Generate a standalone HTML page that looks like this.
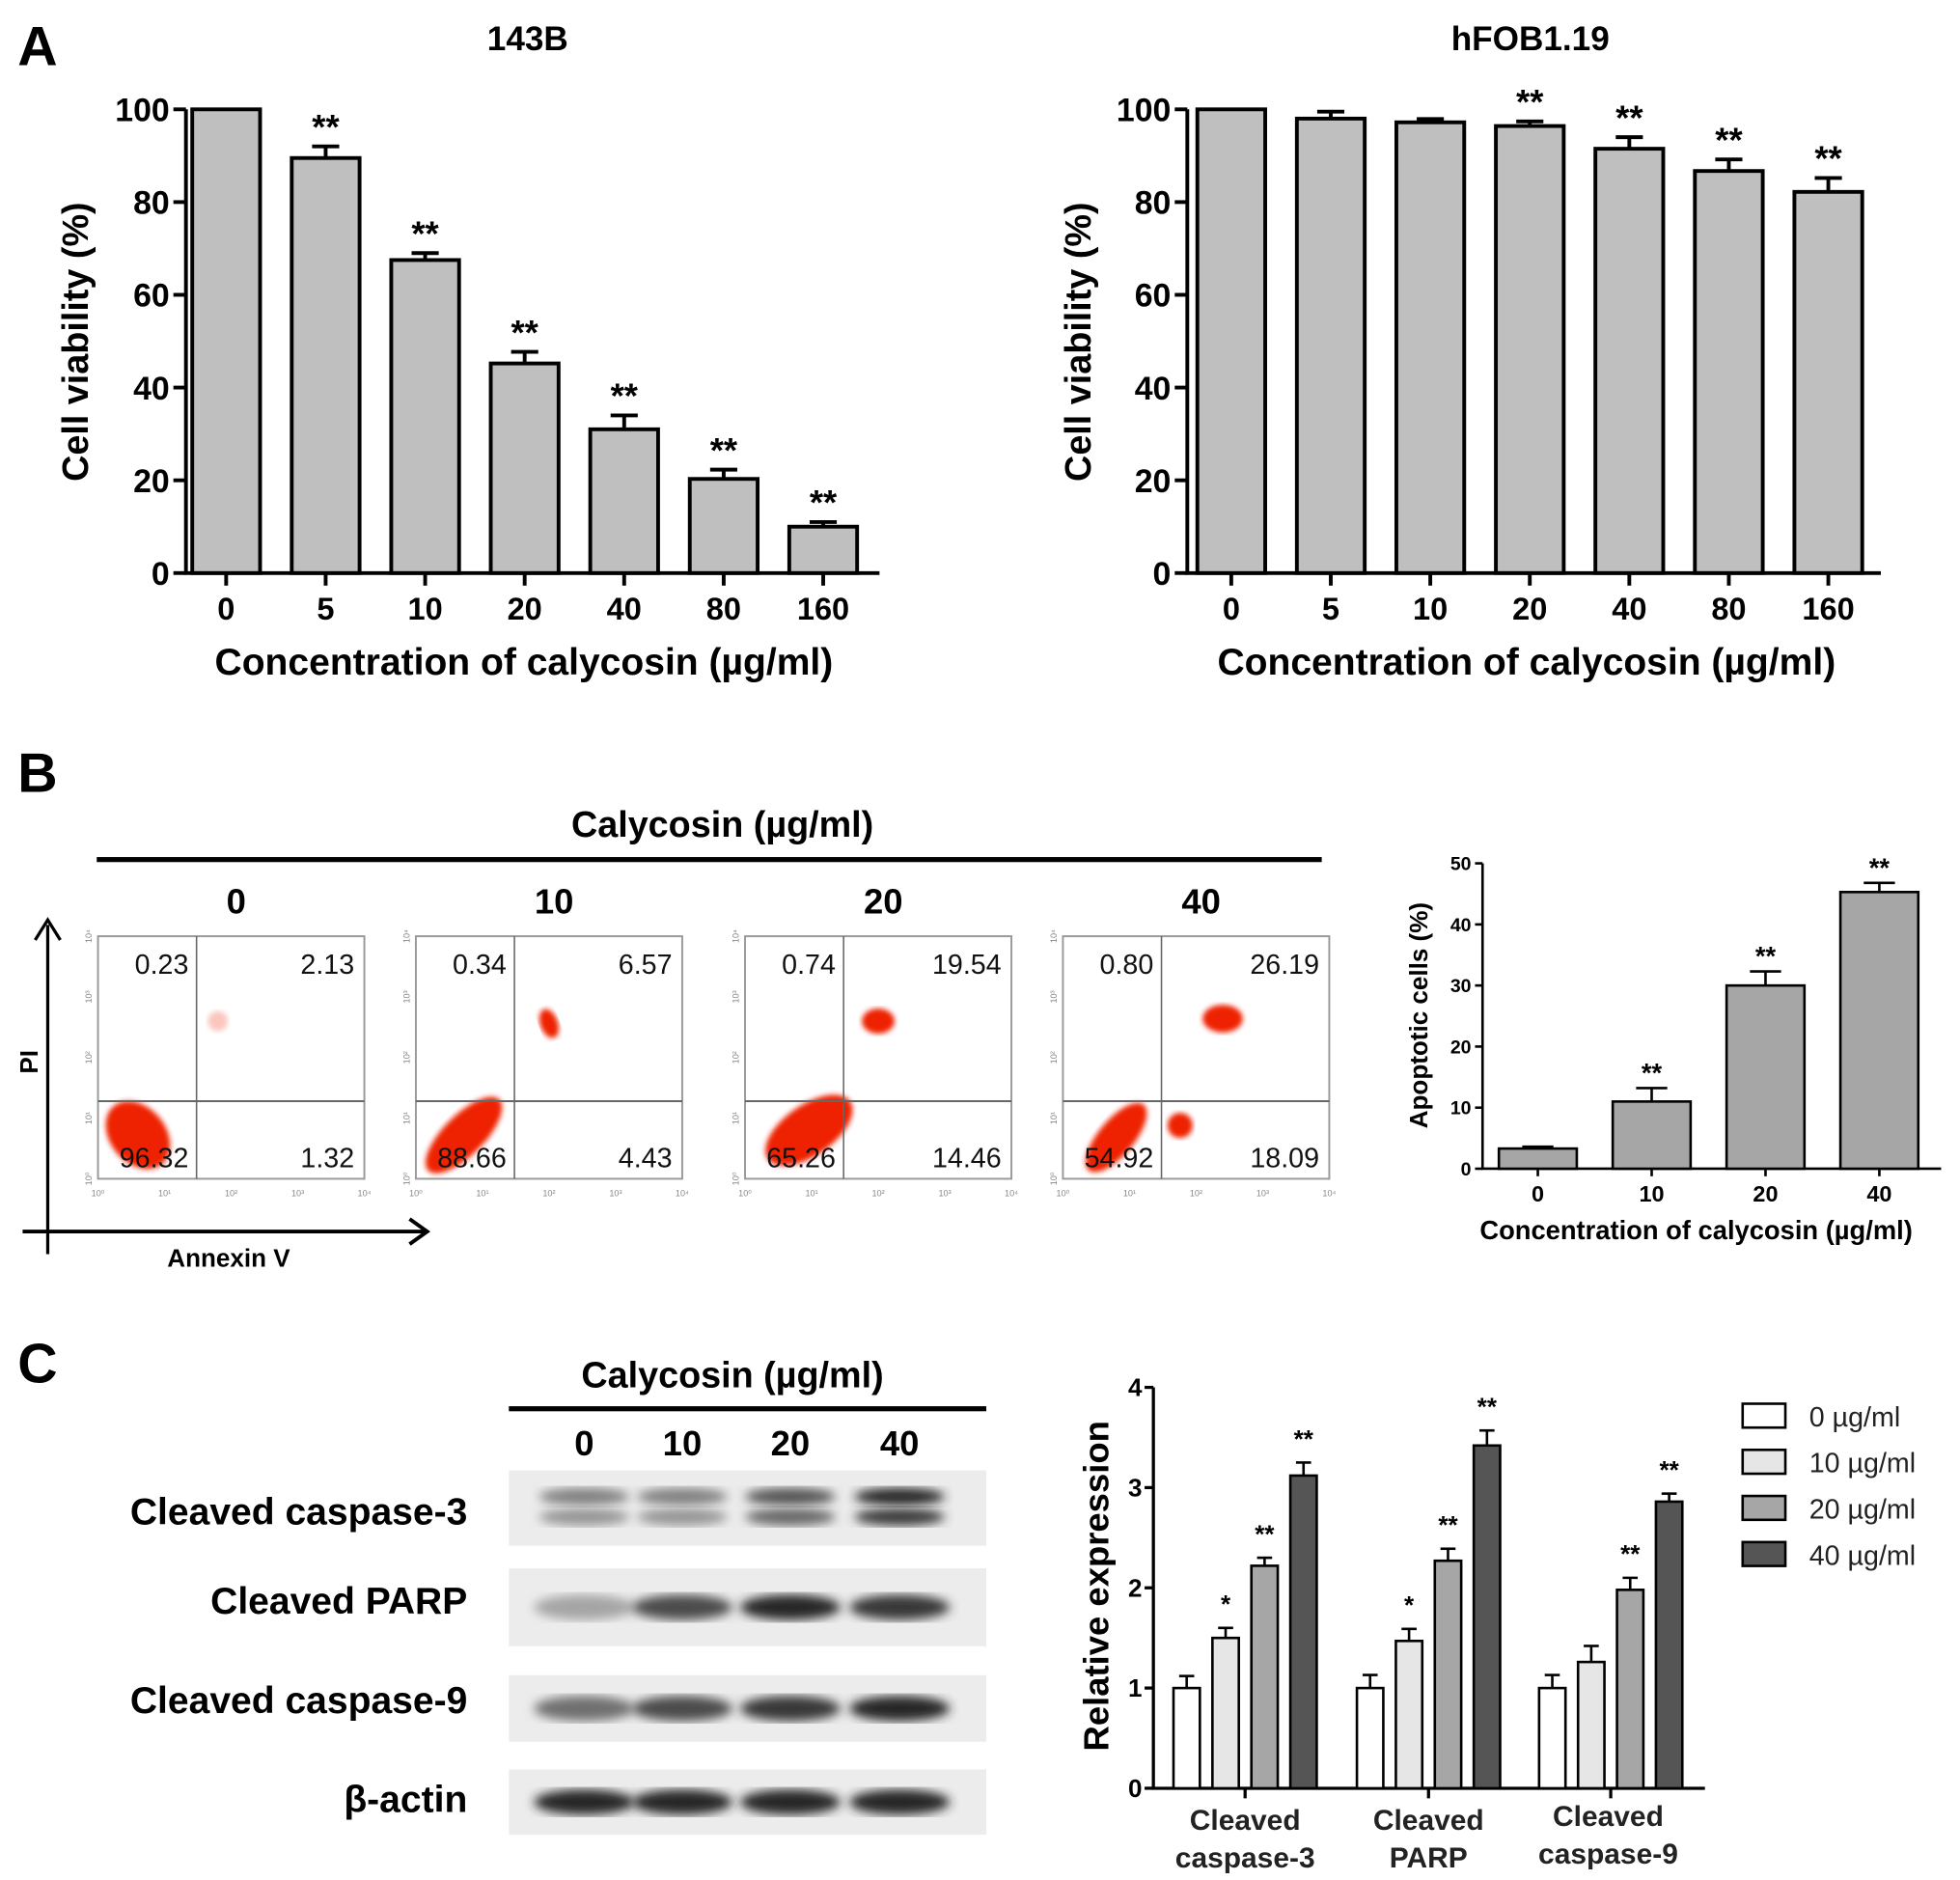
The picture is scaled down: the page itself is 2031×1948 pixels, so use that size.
<!DOCTYPE html>
<html><head><meta charset="utf-8"><style>
html,body{margin:0;padding:0;background:#fff}
svg{display:block}
text{font-family:"Liberation Sans",Arial,sans-serif}
</style></head><body>
<svg id="fig" width="2031" height="1948" viewBox="0 0 1560 1496" preserveAspectRatio="none" xmlns="http://www.w3.org/2000/svg">
<defs>
<filter id="blur2"><feGaussianBlur stdDeviation="2"/></filter>
<filter id="blur4"><feGaussianBlur stdDeviation="4"/></filter>
</defs>
<g id="panelA">
<text x="14" y="52" font-size="44" font-weight="bold">A</text>
</g>
<g id="panelB">
<text x="14" y="630" font-size="44" font-weight="bold">B</text>
<text x="575" y="666" font-size="29" font-weight="bold" text-anchor="middle">Calycosin (µg/ml)</text>
<rect x="77" y="682" width="975" height="4" fill="#000"/>
<line x1="38" y1="998" x2="38" y2="736" stroke="#000" stroke-width="2.5"/>
<path d="M28 748 L38 732 L48 748" fill="none" stroke="#000" stroke-width="2.5"/>
<line x1="18" y1="980" x2="338" y2="980" stroke="#000" stroke-width="3"/>
<path d="M326 970 L340 980 L326 990" fill="none" stroke="#000" stroke-width="3"/>
<text x="30" y="845" font-size="20" font-weight="bold" transform="rotate(-90 30 845)" text-anchor="middle">PI</text>
<text x="182" y="1008" font-size="20" font-weight="bold" text-anchor="middle">Annexin V</text>
</g>
<g id="panelC">
<text x="14" y="1100" font-size="44" font-weight="bold">C</text>
<text x="583" y="1104" font-size="29" font-weight="bold" text-anchor="middle">Calycosin (µg/ml)</text>
<rect x="405" y="1119" width="380" height="4" fill="#000"/>
</g>
</svg>
<script>
// ---- Panel A data ----
const concLabels = ['0','5','10','20','40','80','160'];
const via143B = [100, 89.5, 67.5, 45.2, 31, 20.3, 10];
const err143B = [0, 2.5, 1.5, 2.5, 3, 2, 1];
const sig143B = ['', '**', '**', '**', '**', '**', '**'];
const viaHFOB = [100, 98, 97.2, 96.4, 91.5, 86.7, 82.2];
const errHFOB = [0, 1.5, 0.7, 1, 2.5, 2.5, 3];
const sigHFOB = ['', '', '', '**', '**', '**', '**'];
const ticksA = [0, 20, 40, 60, 80, 100];
// ---- Panel B data ----
const flowConc = ['0','10','20','40'];
const flowUL = ['0.23','0.34','0.74','0.80'];
const flowUR = ['2.13','6.57','19.54','26.19'];
const flowLL = ['96.32','88.66','65.26','54.92'];
const flowLR = ['1.32','4.43','14.46','18.09'];
const apopVals = [3.3, 11, 30, 45.3];
const apopErr = [0.3, 2.2, 2.3, 1.5];
const apopSig = ['', '**', '**', '**'];
const ticksB = [0, 10, 20, 30, 40, 50];
// ---- Panel C data ----
const proteins = [['Cleaved','caspase-3'],['Cleaved','PARP'],['Cleaved','caspase-9']];
const doseNames = ['0 µg/ml','10 µg/ml','20 µg/ml','40 µg/ml'];
const exprC3 = [1.0, 1.5, 2.22, 3.12];
const exprPARP = [1.0, 1.47, 2.27, 3.42];
const exprC9 = [1.0, 1.26, 1.98, 2.86];
const errC3 = [0.12, 0.1, 0.08, 0.13];
const errPARP = [0.13, 0.12, 0.12, 0.15];
const errC9 = [0.13, 0.16, 0.12, 0.08];
const sigC3 = ['', '*', '**', '**'];
const sigPARP = ['', '*', '**', '**'];
const sigC9 = ['', '', '**', '**'];
const ticksC = [0, 1, 2, 3, 4];
const blotRows = ['Cleaved caspase-3','Cleaved PARP','Cleaved caspase-9','β-actin'];
const bandIntensity = [[0.45,0.45,0.7,0.95],[0.25,0.75,0.95,0.85],[0.55,0.75,0.85,0.95],[0.95,0.95,0.95,0.95]];

const NS='http://www.w3.org/2000/svg';
function mk(parent, tag, attrs, txt){const e=document.createElementNS(NS,tag);for(const k in attrs)e.setAttribute(k,attrs[k]);if(txt!==undefined)e.textContent=txt;parent.appendChild(e);return e;}
const A=document.getElementById('panelA'),B=document.getElementById('panelB'),C=document.getElementById('panelC');

function barChart(g, o){
  const y=v=>o.y0-(v-o.min)/(o.max-o.min)*(o.y0-o.y1);
  const ax=mk(g,'path',{d:`M${o.ax} ${o.y1} L${o.ax} ${o.y0} L${o.xEnd} ${o.y0}`,fill:'none',stroke:'#000','stroke-width':o.sw});
  
  
  o.ticks.forEach(t=>{
    mk(g,'line',{x1:o.ax-o.tl,x2:o.ax,y1:y(t),y2:y(t),stroke:'#000','stroke-width':o.sw});
    const tx=mk(g,'text',{x:o.ax-o.tl-3,y:y(t)+o.tf*0.36,'font-size':o.tf,'font-weight':'bold','text-anchor':'end'},String(t));
    
    
  });
  o.vals.forEach((v,i)=>{
    const cx=o.c0+i*o.step;
    const r=mk(g,'rect',{x:cx-o.bw/2,y:y(v),width:o.bw,height:o.y0-y(v),fill:o.fill,stroke:'#000','stroke-width':o.sw});
    
    
    if(o.err[i]>0){
      mk(g,'line',{x1:cx,x2:cx,y1:y(v),y2:y(v+o.err[i]),stroke:'#000','stroke-width':o.sw});
      mk(g,'line',{x1:cx-o.bw*0.2,x2:cx+o.bw*0.2,y1:y(v+o.err[i]),y2:y(v+o.err[i]),stroke:'#000','stroke-width':o.sw});
    }
    if(o.sig[i]){
      const s=mk(g,'text',{x:cx,y:y(v+o.err[i])-o.sgap,'font-size':o.sf,'font-weight':'bold','text-anchor':'middle'},o.sig[i]);
      
      
    }
    mk(g,'line',{x1:cx,x2:cx,y1:o.y0,y2:o.y0+o.tl,stroke:'#000','stroke-width':o.sw});
    const l=mk(g,'text',{x:cx,y:o.y0+o.tl+o.xf+2,'font-size':o.xf,'font-weight':'bold','text-anchor':'middle'},o.cats[i]);
    
    
  });
}

// Panel A charts
[[148,180,via143B,err143B,sig143B,'143B','viability-143b',60,420],[945,980,viaHFOB,errHFOB,sigHFOB,'hFOB1.19','viability-hfob',858,1218]].forEach(p=>{
  barChart(A,{ax:p[0],xEnd:p[0]+552,y0:456,y1:87,min:0,max:100,ticks:ticksA,vals:p[2],err:p[3],sig:p[4],cats:concLabels,c0:p[1],step:79.2,bw:54,fill:'#bfbfbf',sw:3,tl:10,tf:26,xf:25,sf:28,sgap:6,name:p[6]});
  const t=mk(A,'text',{x:p[8],y:40,'font-size':27,'font-weight':'bold','text-anchor':'middle'},p[5]);
  
  
  const yl=mk(A,'text',{x:p[7]+10,y:272,'font-size':29,'font-weight':'bold','text-anchor':'middle',transform:`rotate(-90 ${p[7]+10} 272)`},'Cell viability (%)');
  
  
  const xl=mk(A,'text',{x:p[8]-3,y:537,'font-size':30,'font-weight':'bold','text-anchor':'middle'},'Concentration of calycosin (µg/ml)');
  
  
});

// Panel B flow plots
const plotX=[78,331,593,846];
const clouds=[
  [[0.15,0.82,22,30,-40,1],[0.45,0.35,8,8,0,0.25]],
  [[0.18,0.82,40,16,-45,1],[0.5,0.36,7,12,-20,1]],
  [[0.24,0.8,40,20,-35,1],[0.5,0.35,13,10,0,1]],
  [[0.2,0.83,34,14,-50,1],[0.44,0.78,10,10,0,1],[0.6,0.34,16,11,0,1]]
];
flowConc.forEach((c,i)=>{
  const x0=plotX[i],y0=745,w=212,h=193;
  const t=mk(B,'text',{x:x0+w/2+4,y:727,'font-size':28,'font-weight':'bold','text-anchor':'middle'},c);
  
  
  const g=mk(B,'g',{});
  
  
  mk(g,'rect',{x:x0,y:y0,width:w,height:h,fill:'#fff',stroke:'#999','stroke-width':1.5});
  clouds[i].forEach(cl=>{
    mk(g,'ellipse',{cx:x0+cl[0]*w,cy:y0+cl[1]*h,rx:cl[2],ry:cl[3],fill:'#ee2200',opacity:cl[5],transform:`rotate(${cl[4]} ${x0+cl[0]*w} ${y0+cl[1]*h})`,filter:'url(#blur2)'});
  });
  mk(g,'line',{x1:x0+w*0.37,x2:x0+w*0.37,y1:y0,y2:y0+h,stroke:'#666','stroke-width':1.2});
  mk(g,'line',{x1:x0,x2:x0+w,y1:y0+h*0.68,y2:y0+h*0.68,stroke:'#666','stroke-width':1.5});
  [[flowUL[i],x0+w*0.34,y0+30],[flowUR[i],x0+w-8,y0+30],[flowLL[i],x0+w*0.34,y0+184],[flowLR[i],x0+w-8,y0+184]].forEach(q=>{
    const n=mk(g,'text',{x:q[1],y:q[2],'font-size':22,'text-anchor':'end',fill:'#111'},q[0]);
    
    
  });
  ['0','1','2','3','4'].forEach((e,k)=>{
    mk(g,'text',{x:x0+k*w/4,y:y0+h+14,'font-size':7,fill:'#888','text-anchor':'middle'},'10'+['⁰','¹','²','³','⁴'][k]);
    mk(g,'text',{x:x0-5,y:y0+h-k*h/4,'font-size':7,fill:'#888','text-anchor':'middle',transform:`rotate(-90 ${x0-5} ${y0+h-k*h/4})`},'10'+['⁰','¹','²','³','⁴'][k]);
  });
});

// Panel B bar chart
barChart(B,{ax:1180,xEnd:1545,y0:930,y1:687,min:0,max:50,ticks:ticksB,vals:apopVals,err:apopErr,sig:apopSig,cats:flowConc,c0:1224,step:90.6,bw:62,fill:'#a6a6a6',sw:2,tl:6,tf:15,xf:18,sf:21,sgap:5,name:'apoptosis'});
(function(){
  const yl=mk(B,'text',{x:1136,y:808,'font-size':20,'font-weight':'bold','text-anchor':'middle',transform:'rotate(-90 1136 808)'},'Apoptotic cells (%)');
  
  
  const xl=mk(B,'text',{x:1350,y:986,'font-size':21,'font-weight':'bold','text-anchor':'middle'},'Concentration of calycosin (µg/ml)');
  
  
})();

// Panel C blots
const laneX=[465,543,629,716];
flowConc.forEach((c,i)=>{
  const t=mk(C,'text',{x:laneX[i],y:1158,'font-size':28,'font-weight':'bold','text-anchor':'middle'},c);
  
  
});
const rowY=[[1170,1230],[1248,1310],[1333,1386],[1408,1460]];
const labY=[1213,1284,1363,1442];
blotRows.forEach((r,i)=>{
  const l=mk(C,'text',{x:372,y:labY[i],'font-size':30,'font-weight':'bold','text-anchor':'end'},r);
  
  
  const g=mk(C,'g',{});
  
  
  const y0=rowY[i][0],y1=rowY[i][1],cy=(y0+y1)/2;
  mk(g,'rect',{x:405,y:y0,width:380,height:y1-y0,fill:'#ececec'});
  bandIntensity[i].forEach((v,k)=>{
    const rh=i===0?7:10;
    const g2=Math.round(210-v*180);
    if(i===0){
      mk(g,'ellipse',{cx:laneX[k],cy:cy-9,rx:36,ry:rh,fill:`rgb(${g2},${g2},${g2})`,filter:'url(#blur4)'});
      mk(g,'ellipse',{cx:laneX[k],cy:cy+7,rx:36,ry:rh,fill:`rgb(${g2+20},${g2+20},${g2+20})`,filter:'url(#blur4)'});
    } else {
      mk(g,'ellipse',{cx:laneX[k],cy:cy,rx:40,ry:rh,fill:`rgb(${g2},${g2},${g2})`,filter:'url(#blur4)'});
    }
  });
});

// Panel C bar chart
(function(){
  const y0=1423,y1=1104,ax=918;
  const y=v=>y0-v/4*(y0-y1);
  const gc=[991,1137,1282];
  const fills=['#ffffff','#e6e6e6','#a6a6a6','#555555'];
  const vals=[exprC3,exprPARP,exprC9],errs=[errC3,errPARP,errC9],sigs=[sigC3,sigPARP,sigC9];
  const a=mk(C,'path',{d:`M${ax} ${y1} L${ax} ${y0} L1357 ${y0}`,fill:'none',stroke:'#000','stroke-width':2.5});
  
  
  ticksC.forEach(t=>{
    mk(C,'line',{x1:ax-7,x2:ax,y1:y(t),y2:y(t),stroke:'#000','stroke-width':2.5});
    const tx=mk(C,'text',{x:ax-9,y:y(t)+7,'font-size':20,'font-weight':'bold','text-anchor':'end'},String(t));
    
    
  });
  proteins.forEach((p,gi)=>{
    mk(C,'line',{x1:gc[gi],x2:gc[gi],y1:y0,y2:y0+8,stroke:'#000','stroke-width':2.5});
    p.forEach((line,li)=>{
      const t=mk(C,'text',{x:gc[gi]+(gi===2?-2:0),y:1456+li*30-(gi===2?3:0),'font-size':23,'font-weight':'bold','text-anchor':'middle',fill:'#222'},line);
      
      
    });
    vals[gi].forEach((v,k)=>{
      const cx=gc[gi]-46.5+k*31;
      const r=mk(C,'rect',{x:cx-10.5,y:y(v),width:21,height:y0-y(v),fill:fills[k],stroke:'#000','stroke-width':2});
      
      
      const e=errs[gi][k];
      mk(C,'line',{x1:cx,x2:cx,y1:y(v),y2:y(v+e),stroke:'#000','stroke-width':2});
      mk(C,'line',{x1:cx-6,x2:cx+6,y1:y(v+e),y2:y(v+e),stroke:'#000','stroke-width':2});
      if(sigs[gi][k]){
        const s=mk(C,'text',{x:cx,y:y(v+e)-12,'font-size':20,'font-weight':'bold','text-anchor':'middle'},sigs[gi][k]);
        
        
      }
    });
  });
  const yl=mk(C,'text',{x:882,y:1262,'font-size':28,'font-weight':'bold','text-anchor':'middle',transform:'rotate(-90 882 1262)'},'Relative expression');
  
  
  doseNames.forEach((d,k)=>{
    const ly=1117+k*36.7;
    const b=mk(C,'rect',{x:1387,y:ly,width:34,height:19,fill:fills[k],stroke:'#000','stroke-width':2});
    
    
    const t=mk(C,'text',{x:1440,y:ly+18,'font-size':22,fill:'#222'},d);
    
    
  });
})();
</script>
</body></html>
